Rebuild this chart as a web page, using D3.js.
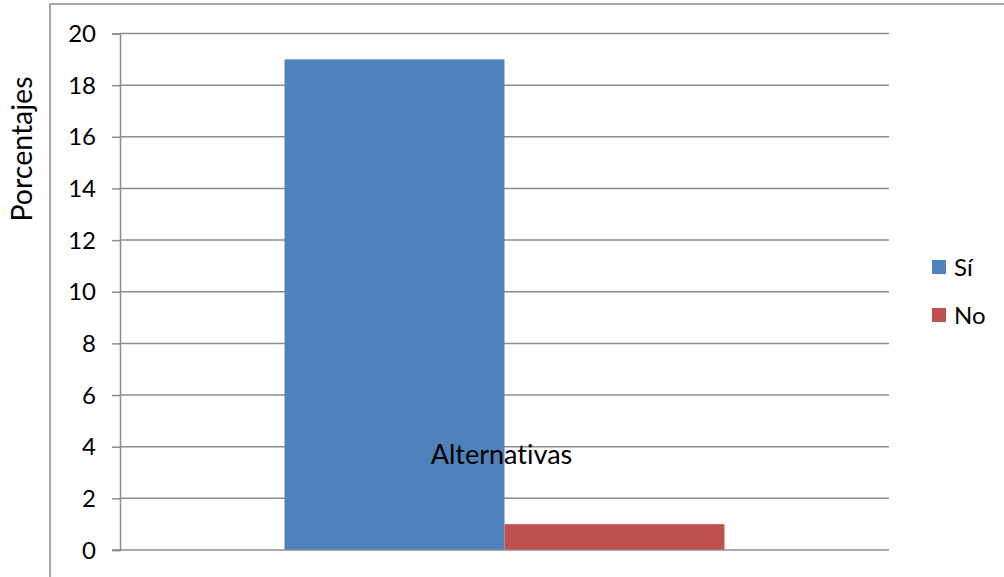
<!DOCTYPE html>
<html>
<head>
<meta charset="utf-8">
<script src="https://cdn.jsdelivr.net/npm/d3@7"></script>
<style>
  html, body { margin: 0; padding: 0; background: #fff; }
  svg { display: block; }
  text { font-family: Lato, "Open Sans", sans-serif; fill: #000; font-variant-ligatures: none; }
</style>
</head>
<body>
<svg id="chart" width="1004" height="577"></svg>
<script>
// Chart data
const categories = ["Alternativas"];
const seriesNames = ["Sí", "No"];
const seriesValues = [[19], [1]];
const seriesColors = ["#4f81bd", "#c0504d"];
const yTicks = [0, 2, 4, 6, 8, 10, 12, 14, 16, 18, 20];
const yTitle = "Porcentajes";

const FONT = "Lato, 'Open Sans', sans-serif";
const FS = "24px";

const svg = d3.select("#chart");
const W = 1004, H = 577;
const plot = { left: 120, right: 889, top: 33.5, bottom: 550 };

// Outer chart frame
svg.append("rect")
  .attr("x", 50).attr("y", 4)
  .attr("width", W).attr("height", H)
  .attr("fill", "none").attr("stroke", "#8a8a8a").attr("stroke-width", 1.5);

const y = d3.scaleLinear().domain([0, 20]).range([plot.bottom, plot.top]);
const x0 = d3.scaleBand().domain(categories).range([plot.left, plot.right]).paddingInner(0).paddingOuter(0.374);
const x1 = d3.scaleBand().domain(seriesNames).range([0, x0.bandwidth()]).padding(0);

// Horizontal gridlines
svg.append("g").selectAll("line").data(yTicks.filter(d => d > 0)).join("line")
  .attr("x1", plot.left).attr("x2", plot.right)
  .attr("y1", d => y(d)).attr("y2", d => y(d))
  .attr("stroke", "#8c8c8c").attr("stroke-width", 1.5);

// Y axis with ticks extending outward
const yAxis = d3.axisLeft(y).tickValues(yTicks).tickSize(8).tickPadding(16);
const gy = svg.append("g").attr("transform", `translate(${plot.left},0)`).call(yAxis);
gy.attr("font-size", null).attr("font-family", null);
gy.select(".domain").attr("stroke", "#8c8c8c").attr("stroke-width", 1.5);
gy.selectAll(".tick line").attr("stroke", "#8c8c8c").attr("stroke-width", 1.5);
gy.selectAll(".tick text")
  .style("font-family", FONT)
  .style("font-size", FS).attr("fill", "#000").attr("dy", "0.34em");

// Bars
const groups = svg.append("g").selectAll("g").data(categories).join("g")
  .attr("transform", d => `translate(${x0(d)},0)`);
groups.selectAll("rect")
  .data((d, ci) => seriesNames.map((s, si) => ({ s, v: seriesValues[si][ci], c: seriesColors[si] })))
  .join("rect")
  .attr("x", d => x1(d.s)).attr("width", x1.bandwidth())
  .attr("y", d => y(d.v)).attr("height", d => y(0) - y(d.v))
  .attr("fill", d => d.c);

// X axis baseline
svg.append("line")
  .attr("x1", plot.left - 8).attr("x2", plot.right)
  .attr("y1", y(0)).attr("y2", y(0))
  .attr("stroke", "#8c8c8c").attr("stroke-width", 1.5);

// Category title
svg.append("text")
  .attr("x", x0(categories[0]) + x0.bandwidth() / 2 - 3)
  .attr("y", 464)
  .attr("text-anchor", "middle")
  .style("font-family", FONT).style("font-size", "27px")
  .text(categories[0]);

// Y axis title
svg.append("text")
  .attr("transform", `translate(32,149) rotate(-90)`)
  .attr("text-anchor", "middle")
  .style("font-family", FONT).style("font-size", "28.5px")
  .text(yTitle);

// Legend
const legend = svg.append("g").selectAll("g").data(seriesNames).join("g")
  .attr("transform", (d, i) => `translate(932,${260 + i * 48})`);
legend.append("rect").attr("width", 14).attr("height", 14)
  .attr("fill", (d, i) => seriesColors[i]);
legend.append("text").attr("x", 22).attr("y", 7).attr("dy", "0.36em")
  .style("font-family", FONT).style("font-size", FS).text(d => d);
</script>
</body>
</html>
